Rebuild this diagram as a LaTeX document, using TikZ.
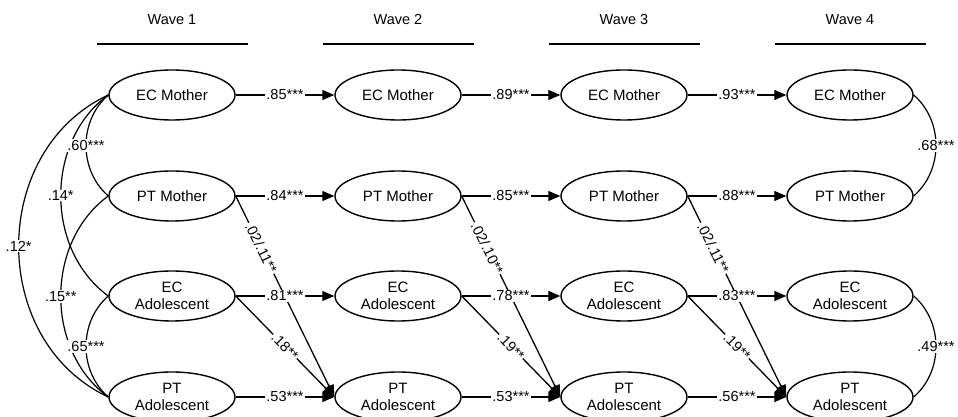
\documentclass[tikz,border=0pt]{standalone}
\usepackage{fontspec}
\setmainfont{Liberation Sans}
\usetikzlibrary{shapes.geometric,arrows.meta}
\begin{document}
\begin{tikzpicture}[x=1pt,y=1pt,
  lat/.style={ellipse,draw,line width=1.4pt,minimum width=126pt,minimum height=50pt,inner sep=0pt,align=center,font=\fontsize{15}{16.5}\selectfont},
  reg/.style={line width=1.3pt,-{Triangle[length=12pt,width=10pt]}},
  cor/.style={line width=1.2pt},
  lab/.style={fill=white,inner sep=1pt,font=\fontsize{14.5}{16}\selectfont},
  hdr/.style={font=\fontsize{14.5}{16}\selectfont},
  hline/.style={line width=1.3pt},
]
\useasboundingbox (0,0) rectangle (958,417);
\clip (0,0) rectangle (958,417);

\foreach \i/\x in {1/172,2/398,3/624,4/850}{
  \node[lat] (ecm\i) at (\x,322) {EC Mother};
  \node[lat] (ptm\i) at (\x,221) {PT Mother};
  \node[lat] (eca\i) at (\x,121) {EC\\Adolescent};
  \node[lat] (pta\i) at (\x,20) {PT\\Adolescent};
  \node[hdr] (w\i) at (\x,397) {Wave \i};
  \coordinate (wl\i) at (\x-75,373);
  \coordinate (wr\i) at (\x+76,373);
  \draw[hline] (wl\i) -- (wr\i);
}

% cross-lagged paths (drawn first)
\draw[reg] (ptm1.east) -- node[lab,sloped,pos=0.26]{.02/.11**} (pta2.west);
\draw[reg] (ptm2.east) -- node[lab,sloped,pos=0.26]{.02/.10**} (pta3.west);
\draw[reg] (ptm3.east) -- node[lab,sloped,pos=0.26]{.02/.11**} (pta4.west);
\draw[reg] (eca1.east) -- node[lab,sloped,pos=0.5]{.18**} (pta2.west);
\draw[reg] (eca2.east) -- node[lab,sloped,pos=0.5]{.19**} (pta3.west);
\draw[reg] (eca3.east) -- node[lab,sloped,pos=0.5]{.19**} (pta4.west);

% autoregressive paths
\draw[reg] (ecm1.east) -- node[lab]{.85***} (ecm2.west);
\draw[reg] (ecm2.east) -- node[lab]{.89***} (ecm3.west);
\draw[reg] (ecm3.east) -- node[lab]{.93***} (ecm4.west);
\draw[reg] (ptm1.east) -- node[lab]{.84***} (ptm2.west);
\draw[reg] (ptm2.east) -- node[lab]{.85***} (ptm3.west);
\draw[reg] (ptm3.east) -- node[lab]{.88***} (ptm4.west);
\draw[reg] (eca1.east) -- node[lab]{.81***} (eca2.west);
\draw[reg] (eca2.east) -- node[lab]{.78***} (eca3.west);
\draw[reg] (eca3.east) -- node[lab]{.83***} (eca4.west);
\draw[reg] (pta1.east) -- node[lab]{.53***} (pta2.west);
\draw[reg] (pta2.east) -- node[lab]{.53***} (pta3.west);
\draw[reg] (pta3.east) -- node[lab]{.56***} (pta4.west);

% wave 1 correlations
\draw[cor] (ecm1.west) to[bend right=49] (ptm1.west);
\draw[cor] (ecm1.west) to[bend right=54] (eca1.west);
\draw[cor] (ecm1.west) to[bend right=65,looseness=1.12] (pta1.west);
\draw[cor] (ptm1.west) to[bend right=54] (pta1.west);
\draw[cor] (eca1.west) to[bend right=49] (pta1.west);
\path (ecm1.west) to[bend right=49] node[lab]{.60***} (ptm1.west);
\path (ecm1.west) to[bend right=54] node[lab]{.14*} (eca1.west);
\path (ecm1.west) to[bend right=65,looseness=1.12] node[lab]{.12*} (pta1.west);
\path (ptm1.west) to[bend right=54] node[lab]{.15**} (pta1.west);
\path (eca1.west) to[bend right=49] node[lab]{.65***} (pta1.west);

% wave 4 correlations
\draw[cor] (ecm4.east) to[bend left=49] node[lab]{.68***} (ptm4.east);
\draw[cor] (eca4.east) to[bend left=49] node[lab]{.49***} (pta4.east);
\end{tikzpicture}
\end{document}
